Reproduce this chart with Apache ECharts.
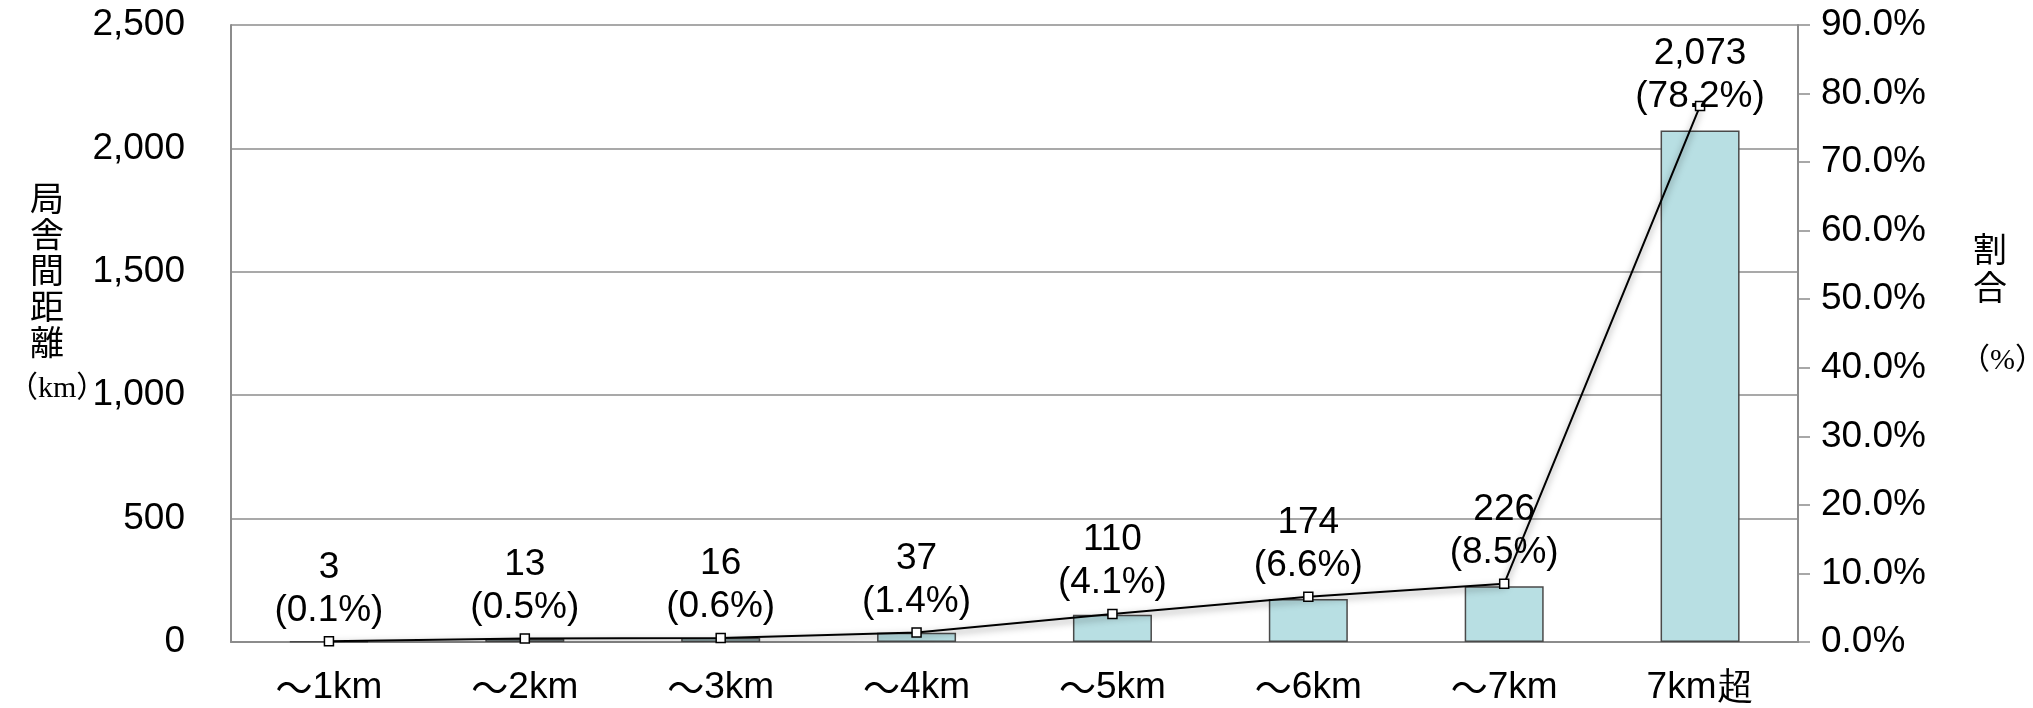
<!DOCTYPE html>
<html>
<head>
<meta charset="utf-8">
<style>
  html, body { margin: 0; padding: 0; background: #ffffff; }
  #chart { width: 2033px; height: 708px; }
</style>
<script src="https://cdn.jsdelivr.net/npm/echarts@6/dist/echarts.min.js"></script>
</head>
<body>
<div id="chart"></div>
<script>
// Distance bands between stations
const categories = ['～1km', '～2km', '～3km', '～4km', '～5km', '～6km', '～7km', '7km超'];
// Total inter-station distance per band (km)
const distanceKm = [3, 13, 16, 37, 110, 174, 226, 2073];
// Share of the total per band (%)
const sharePct = [0.1, 0.5, 0.6, 1.4, 4.1, 6.6, 8.5, 78.2];

const FONT = '"Liberation Sans", Arial, sans-serif';
const CJK = '"Noto Sans CJK JP", "Noto Sans CJK SC", sans-serif';
const SERIF_CJK = '"Liberation Serif", "DejaVu Serif", "Noto Sans CJK JP", serif';
const AXIS_GRAY = '#8c8c8c';
const FS = 37;

const chart = echarts.init(document.getElementById('chart'));

// Point labels: the last (tallest) point's label sits lower, overlapping its marker
const lineData = sharePct.map((v, i) => (
  i === sharePct.length - 1
    ? { value: v, label: { distance: -18 } }
    : v
));

chart.setOption({
  animation: false,
  grid: { left: 231, right: 235, top: 25, bottom: 66, containLabel: false },
  xAxis: {
    type: 'category',
    data: categories,
    axisLine: { lineStyle: { color: AXIS_GRAY, width: 2 } },
    axisTick: { show: false },
    axisLabel: {
      interval: 0,
      hideOverlap: false,
      color: '#000', fontFamily: FONT, fontSize: FS, margin: 27,
      formatter: v => v.startsWith('～') ? '{t|～}' + v.slice(1) : v,
      rich: { t: { fontFamily: CJK, fontSize: FS, color: '#000' } }
    }
  },
  yAxis: [
    {
      type: 'value',
      min: 0, max: 2500, interval: 500,
      axisLine: { show: true, lineStyle: { color: AXIS_GRAY, width: 2 } },
      axisTick: { show: false },
      splitLine: { lineStyle: { color: AXIS_GRAY, width: 1.5 } },
      axisLabel: {
        color: '#000', fontFamily: FONT, fontSize: FS, margin: 46,
        formatter: v => v.toLocaleString('en-US')
      }
    },
    {
      type: 'value',
      min: 0, max: 90, interval: 10,
      position: 'right',
      axisLine: { show: true, lineStyle: { color: AXIS_GRAY, width: 2 } },
      axisTick: { show: true, inside: false, length: 12, lineStyle: { color: AXIS_GRAY, width: 1.5 } },
      splitLine: { show: false },
      axisLabel: {
        color: '#000', fontFamily: FONT, fontSize: FS, margin: 23,
        formatter: v => v.toFixed(1) + '%'
      }
    }
  ],
  series: [
    {
      name: '局舎間距離',
      type: 'bar',
      yAxisIndex: 0,
      data: distanceKm,
      barWidth: 79,
      itemStyle: { color: '#b8dfe3', borderColor: '#4a4a4a', borderWidth: 1.5 }
    },
    {
      name: '割合',
      type: 'line',
      yAxisIndex: 1,
      data: lineData,
      symbol: 'rect',
      symbolSize: 9,
      lineStyle: {
        color: '#000', width: 2,
        shadowColor: 'rgba(0,0,0,0.5)', shadowBlur: 7, shadowOffsetY: 3
      },
      itemStyle: { color: '#ffffff', borderColor: '#000', borderWidth: 1.5 },
      label: {
        show: true,
        position: 'top',
        distance: 4,
        color: '#000',
        fontFamily: FONT,
        fontSize: FS,
        lineHeight: 43,
        align: 'center',
        formatter: p => distanceKm[p.dataIndex].toLocaleString('en-US') +
          '\n(' + sharePct[p.dataIndex].toFixed(1) + '%)'
      },
      z: 5
    }
  ],
  graphic: [
    {
      type: 'text', left: 30, top: 180,
      style: {
        text: '局\n舎\n間\n距\n離', fill: '#000', font: '34px ' + CJK,
        lineHeight: 36, align: 'center'
      }
    },
    {
      type: 'text', left: 8, top: 374,
      style: { text: '（km）', fill: '#000', font: '30px ' + SERIF_CJK }
    },
    {
      type: 'text', left: 1973, top: 230,
      style: {
        text: '割\n合', fill: '#000', font: '34px ' + CJK,
        lineHeight: 38, align: 'center'
      }
    },
    {
      type: 'text', left: 1960, top: 346,
      style: { text: '（%）', fill: '#000', font: '30px ' + SERIF_CJK }
    }
  ]
});
</script>
</body>
</html>
